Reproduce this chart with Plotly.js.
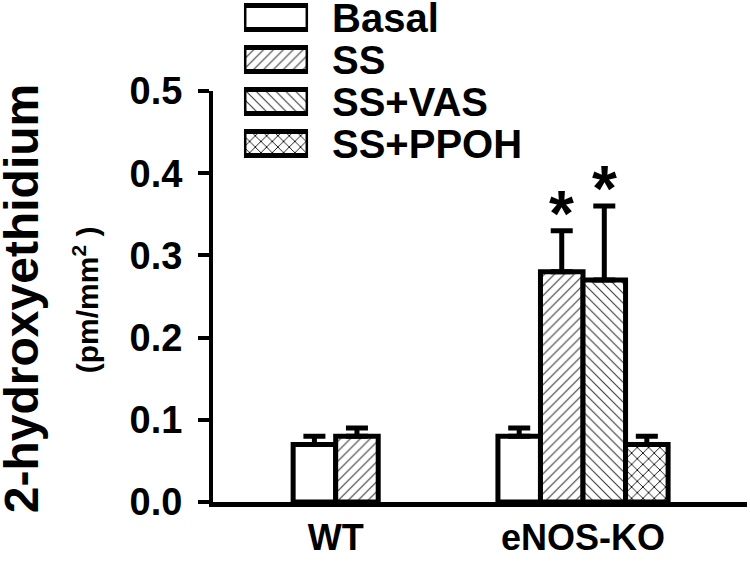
<!DOCTYPE html>
<html><head><meta charset="utf-8">
<script src="https://cdn.plot.ly/plotly-3.0.1.min.js"></script>
<style>html,body{margin:0;padding:0;background:#fff}</style>
</head><body>
<div id="chart" style="width:750px;height:563px"></div>
<script>
// ---- data ----
const groups = ["WT", "eNOS-KO"];
const seriesNames = ["Basal", "SS", "SS+VAS", "SS+PPOH"];
const basalGroups = ["WT", "eNOS-KO"];
const basalValues = [0.07, 0.08];
const basalErrors = [0.01, 0.01];
const ssGroups = ["WT", "eNOS-KO"];
const ssValues = [0.08, 0.28];
const ssErrors = [0.01, 0.05];
const vasGroups = ["eNOS-KO"];
const vasValues = [0.27];
const vasErrors = [0.09];
const ppohGroups = ["eNOS-KO"];
const ppohValues = [0.07];
const ppohErrors = [0.01];
const yTickValues = [0, 0.1, 0.2, 0.3, 0.4, 0.5];
const yTickLabels = ["0.0", "0.1", "0.2", "0.3", "0.4", "0.5"];
const significantSeries = ["SS", "SS+VAS"];
const significantGroup = "eNOS-KO";
const yTitle = "2-hydroxyethidium";
const yUnit = "(pm/mm<sup>2</sup> )";

// ---- styles ----
const FONT = "Liberation Sans, Arial, Helvetica, sans-serif";
const W = 0.172;
const patterns = {"Basal": "", "SS": "/", "SS+VAS": "\\", "SS+PPOH": "x"};
const patSize = {"Basal": 7, "SS": 7, "SS+VAS": 7, "SS+PPOH": 8};
const patColor = {"Basal": "#333", "SS": "#333", "SS+VAS": "#333", "SS+PPOH": "#111"};
const patSolid = {"Basal": 0.15, "SS": 0.15, "SS+VAS": 0.15, "SS+PPOH": 0.22};

const seriesData = {
  "Basal": {g: basalGroups, v: basalValues, e: basalErrors},
  "SS": {g: ssGroups, v: ssValues, e: ssErrors},
  "SS+VAS": {g: vasGroups, v: vasValues, e: vasErrors},
  "SS+PPOH": {g: ppohGroups, v: ppohValues, e: ppohErrors}
};
function present(group) {
  return seriesNames.filter(n => seriesData[n].g.indexOf(group) >= 0);
}
function offsetOf(group, name) {
  const list = present(group);
  const k = list.indexOf(name);
  return (k - list.length / 2) * W;
}

const traces = seriesNames.map(name => {
  const d = seriesData[name];
  return {
    type: "bar", name: name, x: d.g, y: d.v,
    width: d.g.map(() => W),
    offset: d.g.map(g => offsetOf(g, name)),
    marker: {color: "white", line: {color: "black", width: 5},
      pattern: {shape: patterns[name], fgcolor: patColor[name], bgcolor: "white",
        size: patSize[name], solidity: patSolid[name]}},
    error_y: {type: "data", symmetric: false, array: d.e, arrayminus: d.e.map(() => 0),
      color: "black", thickness: 5, width: 11},
    cliponaxis: false, showlegend: false, hoverinfo: "skip", xaxis: "x", yaxis: "y"
  };
});

// legend swatches drawn as a small horizontal bar chart
traces.push({
  type: "bar", orientation: "h", y: seriesNames, x: seriesNames.map(() => 1),
  width: 0.57, xaxis: "x2", yaxis: "y2", showlegend: false, hoverinfo: "skip", cliponaxis: false,
  marker: {color: "white", line: {color: "black", width: 5},
    pattern: {shape: seriesNames.map(n => patterns[n]), fgcolor: seriesNames.map(n => patColor[n]),
      bgcolor: "white", size: seriesNames.map(n => patSize[n]), solidity: seriesNames.map(n => patSolid[n])}}
});

const annotations = [];
seriesNames.forEach((n, i) => {
  annotations.push({xref: "paper", yref: "y2", x: 0.219, y: i, text: n, showarrow: false,
    xanchor: "left", yanchor: "middle",
    font: {family: FONT, size: 40, weight: "bold", color: "black"}});
});
significantSeries.forEach(n => {
  const d = seriesData[n];
  const j = d.g.indexOf(significantGroup);
  annotations.push({xref: "x", yref: "y",
    x: groups.indexOf(significantGroup) + offsetOf(significantGroup, n) + W / 2,
    y: d.v[j] + d.e[j], yshift: 17, text: "*", showarrow: false,
    xanchor: "center", yanchor: "middle",
    font: {family: FONT, size: 64, weight: "bold", color: "black"}});
});
annotations.push({xref: "paper", yref: "paper", x: -0.3596, y: 0.406, text: yTitle, textangle: -90,
  showarrow: false, xanchor: "center", yanchor: "middle",
  font: {family: FONT, size: 48, weight: "bold", color: "black"}});
annotations.push({xref: "paper", yref: "paper", x: -0.2378, y: 0.402, text: yUnit, textangle: -90,
  showarrow: false, xanchor: "center", yanchor: "middle",
  font: {family: FONT, size: 30, weight: "bold", color: "black"}});

const layout = {
  width: 750, height: 563,
  margin: {l: 213, r: 3, t: 0, b: 61},
  paper_bgcolor: "white", plot_bgcolor: "white",
  barmode: "overlay", showlegend: false,
  font: {family: FONT, color: "black"},
  xaxis: {type: "category", categoryorder: "array", categoryarray: groups,
    range: [-0.496, 1.663], showline: true, linewidth: 5, linecolor: "black",
    ticks: "", showgrid: false, zeroline: false, fixedrange: true,
    tickfont: {family: FONT, size: 36, weight: "bold", color: "black"}, ticklabelstandoff: 0},
  yaxis: {domain: [0, 0.8187], range: [0, 0.5], tickvals: yTickValues, ticktext: yTickLabels,
    showline: true, linewidth: 4, linecolor: "black", ticks: "outside", ticklen: 11, tickwidth: 4,
    tickcolor: "black", showgrid: false, zeroline: false, fixedrange: true, ticklabelstandoff: 8,
    tickfont: {family: FONT, size: 38, weight: "bold", color: "black"}},
  xaxis2: {domain: [0.058, 0.178], range: [0, 1], visible: false, anchor: "y2", fixedrange: true},
  yaxis2: {domain: [0.6723, 1], type: "category", categoryorder: "array", categoryarray: seriesNames,
    range: [3.5, -0.4167], visible: false, anchor: "x2", fixedrange: true},
  annotations: annotations
};
Plotly.newPlot("chart", traces, layout, {displayModeBar: false, staticPlot: true});
</script>
</body></html>
